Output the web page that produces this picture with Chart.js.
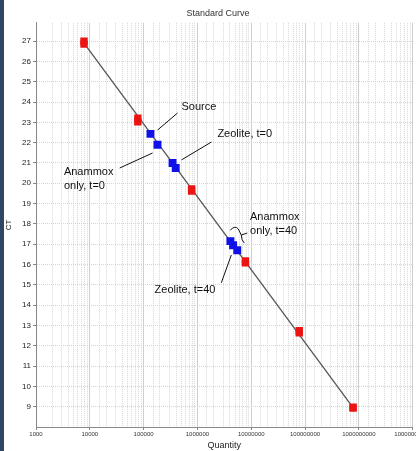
<!DOCTYPE html>
<html>
<head>
<meta charset="utf-8">
<script src="https://cdn.jsdelivr.net/npm/chart.js@4"></script>
<style>
  html, body { margin: 0; padding: 0; background: #fff; overflow: hidden; width: 416px; height: 451px; }
  #wrap { position: absolute; left: 0; top: 0; width: 412px; height: 451px; border-left: 4px solid #2f4763; overflow: hidden; }
  canvas { position: absolute; left: 0; top: 0; }
</style>
</head>
<body>
<div id="wrap"><canvas id="myChart" width="428" height="451"></canvas></div>
<script>
// standards run in duplicate (red), samples (blue)
const stdQty = [7800, 7800, 78000, 78000, 780000, 780000, 7800000, 7800000, 78000000, 78000000, 780000000, 780000000]
const stdCt = [27.0, 26.85, 23.21, 23.02, 19.72, 19.62, 16.18, 16.08, 12.74, 12.64, 8.97, 8.93]
const sampleQty = [134000, 181000, 345000, 395000, 4100000, 4600000, 5500000]
const sampleCt = [22.43, 21.9, 21.0, 20.75, 17.15, 16.95, 16.7]
const fitQty = [7800, 780000000]
const fitCt = [26.9, 8.95]
const yTicks = [9, 10, 11, 12, 13, 14, 15, 16, 17, 18, 19, 20, 21, 22, 23, 24, 25, 26, 27]

const notes = [
    { text: ['Source'], at: [506000, 23.75], from: [427000, 23.46], to: [182000, 22.62] },
    { text: ['Zeolite, t=0'], at: [2350000, 22.43], from: [1820000, 22.03], to: [506000, 21.15] },
    { text: ['Anammox', 'only, t=0'], at: [3300, 20.56], from: [35900, 20.75], to: [146800, 21.49] },
    { text: ['Anammox', 'only, t=40'], at: [9500000, 18.34], brace: [6000000, 17.5] },
    { text: ['Zeolite, t=40'], at: [160000, 14.75], from: [2780000, 15.1], to: [4270000, 16.47] },
]

const toPts = (xs, ys) => xs.map((x, i) => ({ x, y: ys[i] }))
const FONT = '"Liberation Sans", Arial, sans-serif'

const notesPlugin = {
    id: 'notes',
    afterDatasetsDraw(chart) {
        const ctx = chart.ctx
        const sx = chart.scales.x, sy = chart.scales.y
        const px = p => [sx.getPixelForValue(p[0]), sy.getPixelForValue(p[1])]
        ctx.save()
        ctx.fillStyle = '#111'
        ctx.strokeStyle = '#111'
        ctx.lineWidth = 1
        ctx.font = '11px ' + FONT
        ctx.textBaseline = 'middle'
        notes.forEach(n => {
            const [tx, ty] = px(n.at)
            n.text.forEach((t, i) => ctx.fillText(t, tx, ty + i * 14))
            if (n.from) {
                const a = px(n.from), b = px(n.to)
                ctx.beginPath()
                ctx.moveTo(a[0], a[1])
                ctx.lineTo(b[0], b[1])
                ctx.stroke()
            }
            if (n.brace) {
                // little curly bracket next to the t=40 cluster
                const [bx, by] = px(n.brace)
                ctx.beginPath()
                ctx.moveTo(bx - 9, by - 4)
                ctx.quadraticCurveTo(bx - 4, by - 9, bx - 1, by - 5)
                ctx.lineTo(bx + 2, by + 1)
                ctx.lineTo(bx + 8, by - 1)
                ctx.moveTo(bx + 2, by + 1)
                ctx.quadraticCurveTo(bx + 2, by + 6, bx + 5, by + 9)
                ctx.stroke()
            }
        })
        ctx.restore()
    }
}

const isDecade = v => Math.abs(Math.log10(v) - Math.round(Math.log10(v))) < 1e-9

const config = {
    type: 'scatter',
    data: {
        datasets: [
            {
                data: toPts(sampleQty, sampleCt),
                backgroundColor: '#1010e8',
                borderWidth: 0,
                pointStyle: 'rect',
                pointRadius: 5.6
            },
            {
                data: toPts(stdQty, stdCt),
                backgroundColor: '#ec1313',
                borderWidth: 0,
                pointStyle: 'rect',
                pointRadius: 5.2
            },
            {
                data: toPts(fitQty, fitCt),
                showLine: true,
                borderColor: '#555',
                borderWidth: 1.3,
                pointRadius: 0
            }
        ]
    },
    options: {
        responsive: false,
        animation: false,
        events: [],
        layout: { padding: 0 },
        plugins: {
            legend: { display: false },
            tooltip: { enabled: false },
            title: {
                display: true,
                text: 'Standard Curve',
                color: '#333',
                font: { family: FONT, size: 9, weight: 'normal' },
                padding: { top: 8, bottom: 4 }
            }
        },
        scales: {
            x: {
                type: 'logarithmic',
                min: 1000,
                max: 10000000000,
                afterFit: s => { s.height = 24 },
                title: { display: true, text: 'Quantity', color: '#222', font: { family: FONT, size: 9 }, padding: 0 },
                ticks: {
                    autoSkip: false,
                    maxRotation: 0,
                    color: '#333',
                    padding: 1,
                    font: { family: FONT, size: 6 },
                    callback: v => isDecade(v) ? String(Math.round(v)) : ''
                },
                grid: {
                    color: c => c.tick && isDecade(c.tick.value) ? '#cfcfcf' : '#d8d8d8',
                    tickColor: c => c.tick && isDecade(c.tick.value) ? '#888' : 'rgba(0,0,0,0)',
                    tickLength: 3
                },
                border: {
                    color: '#8a8a8a',
                    dash: c => c.tick && isDecade(c.tick.value) ? [] : [1, 1]
                }
            },
            y: {
                min: 8,
                max: 27.9,
                afterBuildTicks: s => { s.ticks = yTicks.map(v => ({ value: v })) },
                afterFit: s => { s.width = 32 },
                title: { display: true, text: 'CT', color: '#222', font: { family: FONT, size: 8 }, padding: 0 },
                ticks: {
                    color: '#222',
                    padding: 2,
                    font: { family: FONT, size: 8 }
                },
                grid: {
                    color: '#d4d4d4',
                    tickColor: '#888',
                    tickLength: 3
                },
                border: { color: '#8a8a8a', dash: [1, 1] }
            }
        }
    },
    plugins: [notesPlugin]
}

const myChart = new Chart(document.getElementById('myChart'), config)
</script>
</body>
</html>
